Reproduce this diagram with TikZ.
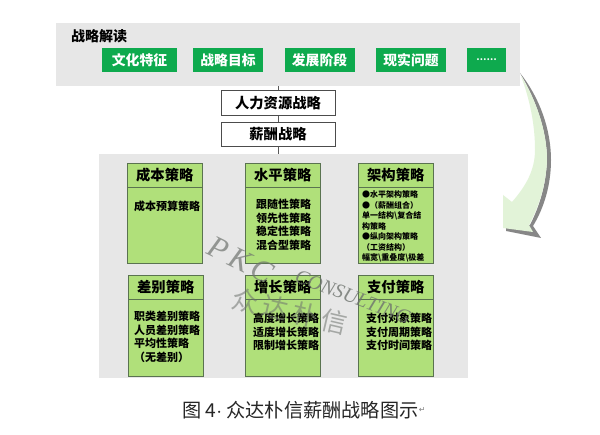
\documentclass[tikz,border=0pt]{standalone}
\usepackage{fontspec}
\setmainfont{Liberation Serif}
\newfontfamily\cjk{Noto Sans CJK SC}
\newfontfamily\cjkl{Noto Sans CJK SC}
\newfontfamily\wmfont[LetterSpace=14]{Liberation Serif}
\newfontfamily\wmcjk[LetterSpace=18]{Noto Sans CJK SC}
\newfontfamily\arrowsym{DejaVu Sans}
\definecolor{panel}{RGB}{231,231,231}
\definecolor{tagg}{RGB}{14,170,78}
\definecolor{boxg}{RGB}{176,224,122}
\definecolor{boxe}{RGB}{90,115,80}
\definecolor{arrowlight}{RGB}{226,243,216}
\definecolor{arrowshade}{RGB}{135,135,135}
\definecolor{wm}{RGB}{110,115,110}
\tikzset{
 x=1pt,y=-1pt,
 panelbox/.style={fill=panel,draw=none,inner sep=0pt,anchor=north west},
 tag/.style={fill=tagg,text=white,font=\cjk\bfseries\fontsize{13.8}{15}\selectfont,inner sep=0pt,minimum height=24pt},
 plainbox/.style={draw=black!70,line width=0.7pt,fill=white,font=\cjk\bfseries\fontsize{14.3}{16}\selectfont,minimum width=114pt,minimum height=24.5pt,inner sep=0pt},
 headbox/.style={draw=boxe,line width=1pt,fill=boxg,font=\cjk\bfseries\fontsize{14.3}{16}\selectfont,minimum width=74.5pt,minimum height=24pt,inner sep=0pt,anchor=north west},
 bodybox/.style={draw=boxe,line width=1pt,fill=boxg,minimum width=74.5pt,inner sep=0pt,anchor=north west},
 lines/.style={font=\cjk\bfseries\fontsize{11}{13.6}\selectfont,align=left,anchor=north west,inner sep=0pt},
 smalllines/.style={font=\cjk\bfseries\fontsize{8}{10.5}\selectfont,align=left,anchor=north west,inner sep=0pt},
 link/.style={draw=black!65,line width=0.7pt},
}
\begin{document}
\begin{tikzpicture}
\useasboundingbox (0,0) rectangle (600,435);
\fill[white] (0,0) rectangle (600,435);
% curved arrow
\fill[arrowshade] (520,73) .. controls (540,98) and (551,130) .. (551,160) .. controls (551,185) and (544,208) .. (533,226) -- (541,238) -- (506,231) -- (506,225) -- (530,225) .. controls (540,205) and (546,185) .. (547,160) .. controls (547,130) and (535,98) .. (520,73) -- cycle;
\fill[arrowlight] (521,76) .. controls (535,98) and (547,130) .. (547,160) .. controls (546,185) and (539,206) .. (529,225) -- (533,232) -- (503,228) -- (503,195) -- (512,202) .. controls (526,186) and (535,170) .. (535,150) .. controls (535,125) and (530,100) .. (521,76) -- cycle;
% panels
\node[panelbox,minimum width=464pt,minimum height=63pt] (top) at (56,23) {};
\node[panelbox,minimum width=369pt,minimum height=224pt] (lower) at (99,154) {};
\node[font=\cjk\bfseries\fontsize{14}{16}\selectfont,anchor=west,inner sep=0pt] (title) at (71,36) {战略解读};
\node[tag,minimum width=75pt] (t1) at (139.5,60) {文化特征};
\node[tag,minimum width=70pt] (t2) at (228,60) {战略目标};
\node[tag,minimum width=70pt] (t3) at (319.5,60) {发展阶段};
\node[tag,minimum width=70pt] (t4) at (411,60) {现实问题};
\node[tag,minimum width=39pt,font=\cjk\bfseries\fontsize{9}{10}\selectfont] (t5) at (486.5,60) {……};
\node[plainbox] (hr) at (278,103) {人力资源战略};
\node[plainbox] (pay) at (278,134.5) {薪酬战略};
\draw[link] (top.south -| hr.north) -- (hr.north);
\draw[link] (hr.south) -- (pay.north);
\draw[link] (pay.south) -- (lower.north -| pay.south);
% boxes row 1
\node[bodybox,minimum height=100pt] (b1) at (127,163) {};
\node[headbox] (h1) at (127,163) {成本策略};
\node[lines] (l1) at (134,201) {成本预算策略};
\node[bodybox,minimum height=100pt] (b2) at (245,163) {};
\node[headbox] (h2) at (245,163) {水平策略};
\node[lines] (l2) at (256,199) {跟随性策略\\领先性策略\\稳定性策略\\混合型策略};
\node[bodybox,minimum height=100pt] (b3) at (358,163) {};
\node[headbox] (h3) at (358,163) {架构策略};
\node[smalllines] (l3) at (362,190.5) {●水平架构策略\\●（薪酬组合）\\单一结构\textbackslash 复合结\\构策略\\●纵向架构策略\\（工资结构）\\幅宽\textbackslash 重叠度\textbackslash 极差};
% boxes row 2
\node[bodybox,minimum height=101pt] (b4) at (128,275) {};
\node[headbox] (h4) at (128,275) {差别策略};
\node[lines] (l4) at (134,311) {职类差别策略\\人员差别策略\\平均性策略\\（无差别）};
\node[bodybox,minimum height=101pt] (b5) at (245,275) {};
\node[headbox] (h5) at (245,275) {增长策略};
\node[lines] (l5) at (253,313) {高度增长策略\\适度增长策略\\限制增长策略};
\node[bodybox,minimum height=101pt] (b6) at (358,275) {};
\node[headbox] (h6) at (358,275) {支付策略};
\node[lines] (l6) at (366,313) {支付对象策略\\支付周期策略\\支付时间策略};
% watermark
\node[rotate=-26,text=wm,opacity=.7,font=\wmfont\itshape\fontsize{31}{34}\selectfont] (wm1) at (241,260) {PKC};
\node[rotate=-21,text=wm,opacity=.8,font=\itshape\fontsize{20}{22}\selectfont] (wm2) at (353,297) {CONSULTING};
\node[rotate=-13,text=wm,opacity=.55,font=\wmcjk\fontsize{26}{28}\selectfont] (wm3) at (290,311) {众达朴信};
% caption
\node[font=\cjkl\fontsize{19.2}{21}\selectfont,text=black!85,inner sep=0pt,anchor=west] (cap) at (182,410) {图 4$\cdot$ 众达朴信薪酬战略图示};
\node[font=\arrowsym\fontsize{8}{9}\selectfont,text=black!50,inner sep=0pt,anchor=west] (ret) at (cap.east) {↵};
\end{tikzpicture}
\end{document}
